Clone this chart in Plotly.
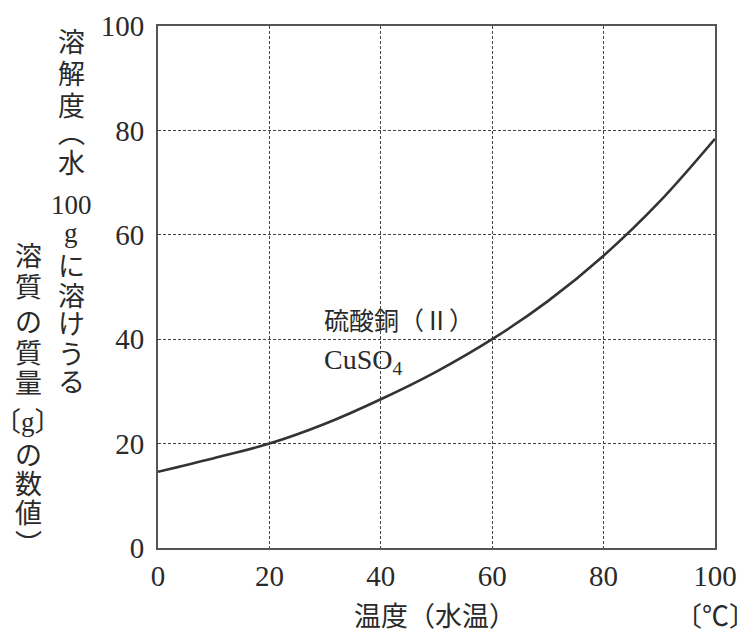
import plotly.graph_objects as go

# ---- data ----
temperature = [0, 10, 20, 30, 40, 50, 60, 70, 80, 90, 100]
solubility_cuso4 = [14.6, 17.2, 20.0, 23.8, 28.5, 33.8, 40.0, 47.3, 56.0, 66.3, 78.4]
tick_values = [0, 20, 40, 60, 80, 100]
tick_labels = ["0", "20", "40", "60", "80", "100"]
ytitle_col1 = ["溶", "解", "度", "︵", "水", "100", "g", "に", "溶", "け", "う", "る"]
ytitle_col2 = ["溶", "質", "の", "質", "量", "〔g〕", "の", "数", "値", "︶"]
xtitle = "温度（水温）"
xunit = "〔℃〕"
label_name = "硫酸銅（Ⅱ）"
label_formula = "CuSO<sub>4</sub>"

# page offset (browser body margin)
OFF = 8
W, H = 745 - OFF, 634 - OFF
L, R, T, B = 158 - OFF, 30, 26 - OFF, 86
PW, PH = W - L - R, H - T - B
PAGE_L, PAGE_B = L + OFF, T + OFF + PH

SERIF = "Liberation Serif"
FONT = "Liberation Serif, Noto Sans CJK JP, serif"
TXT = "#2a2a2a"


def px_x(px):
    return (px - PAGE_L) / PW


def px_y(py):
    return (PAGE_B - py) / PH


fig = go.Figure()
fig.add_trace(go.Scatter(
    x=temperature, y=solubility_cuso4, mode="lines",
    line=dict(color="#333333", width=2.6, shape="spline", smoothing=1.0),
    showlegend=False, hoverinfo="skip",
))

axis_common = dict(
    range=[0, 100], tickvals=tick_values, ticktext=tick_labels,
    showline=True, mirror=True, linecolor="#555555", linewidth=2,
    showgrid=True, gridcolor="#444444", gridwidth=1, griddash="3px,2px",
    zeroline=False, ticks="", automargin=False,
    tickfont=dict(family=SERIF, size=29, color=TXT),
)
fig.update_xaxes(**axis_common, ticklabelstandoff=1)
fig.update_yaxes(**axis_common, ticklabelstandoff=6)

annotations = []
annotations.append(dict(x=29.4, y=43.4, xref="x", yref="y", text=label_name,
                        showarrow=False, xanchor="left", yanchor="middle",
                        font=dict(family=FONT, size=25, color=TXT)))
annotations.append(dict(x=29.4, y=35.7, xref="x", yref="y", text=label_formula,
                        showarrow=False, xanchor="left", yanchor="middle",
                        font=dict(family=FONT, size=28, color=TXT)))

col1_y = [43, 75, 107, 134, 164, 205, 233, 267, 297, 325, 355, 383]
col2_y = [257, 288, 323, 354, 384, 422, 456, 485, 514, 545]
for ch, py in zip(ytitle_col1, col1_y):
    annotations.append(dict(x=px_x(71), y=px_y(py), xref="paper", yref="paper",
                            text=ch, showarrow=False, xanchor="center", yanchor="middle",
                            font=dict(family=FONT, size=27, color=TXT)))
for ch, py in zip(ytitle_col2, col2_y):
    annotations.append(dict(x=px_x(28), y=px_y(py), xref="paper", yref="paper",
                            text=ch, showarrow=False, xanchor="center", yanchor="middle",
                            font=dict(family=FONT, size=27, color=TXT)))

annotations.append(dict(x=px_x(435), y=px_y(617), xref="paper", yref="paper",
                        text=xtitle, showarrow=False, xanchor="center", yanchor="middle",
                        font=dict(family=FONT, size=27, color=TXT)))
annotations.append(dict(x=px_x(715), y=px_y(617), xref="paper", yref="paper",
                        text=xunit, showarrow=False, xanchor="center", yanchor="middle",
                        font=dict(family=FONT, size=27, color=TXT)))

fig.update_layout(
    width=W, height=H,
    margin=dict(l=L, r=R, t=T, b=B, pad=0, autoexpand=False),
    paper_bgcolor="white", plot_bgcolor="white",
    font=dict(family=FONT, color=TXT),
    annotations=annotations,
    showlegend=False,
)

fig.write_html("out.html")
